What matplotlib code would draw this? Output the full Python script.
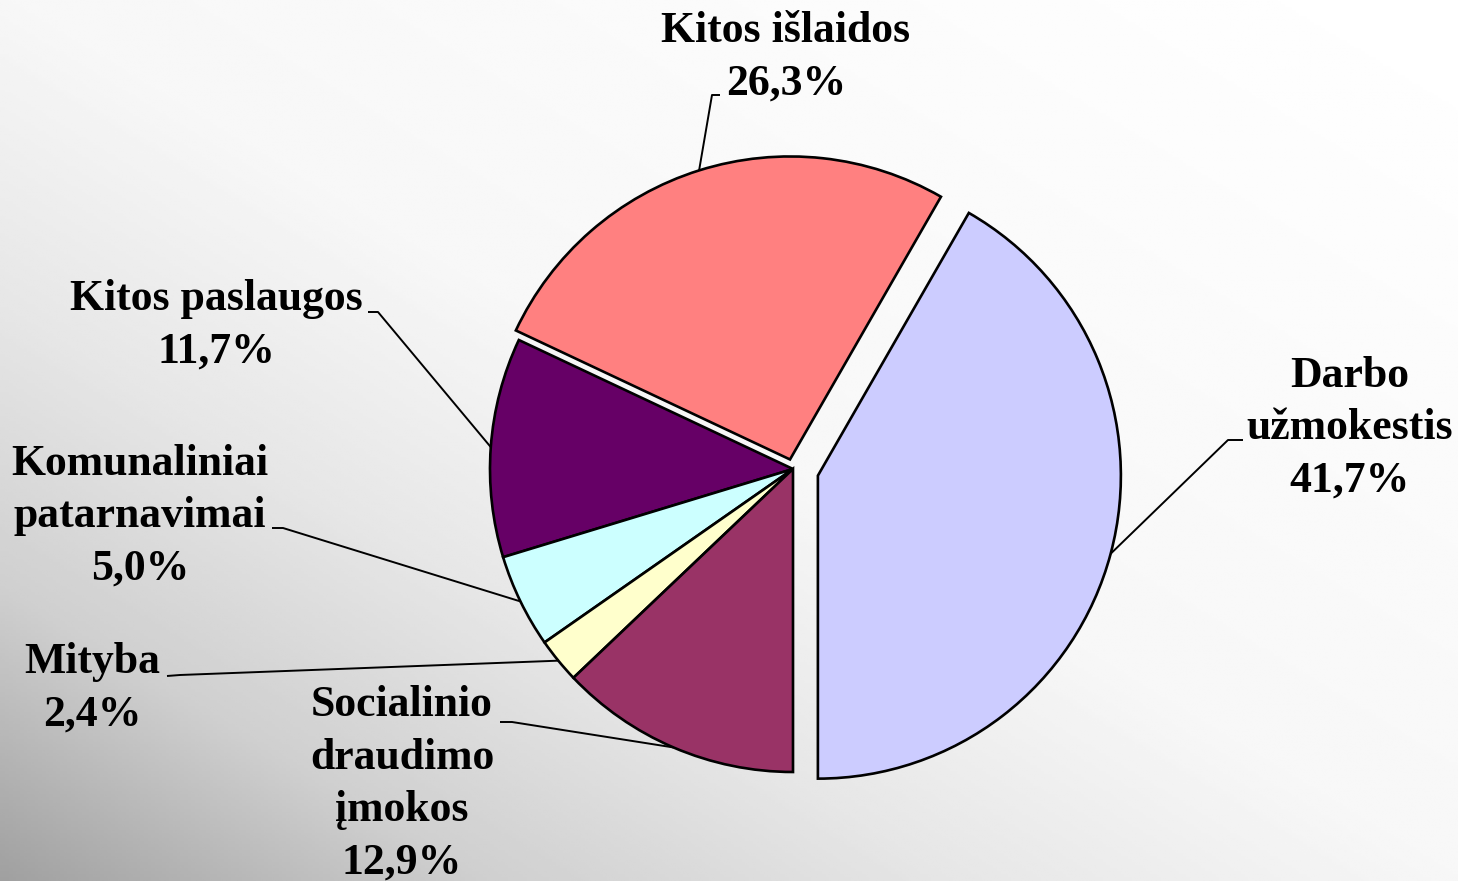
import numpy as np
import matplotlib
matplotlib.use('Agg')
import matplotlib.pyplot as plt

W, H = 1458, 881

# slices in counter-clockwise order, starting from the bottom
labels = ['Darbo\nužmokestis', 'Kitos išlaidos', 'Kitos paslaugos',
          'Komunaliniai\npatarnavimai', 'Mityba', 'Socialinio\ndraudimo\nįmokos']
shares = [41.7, 26.3, 11.7, 5.0, 2.4, 12.9]
colors = ['#CCCCFF', '#FF8080', '#660066', '#CCFFFF', '#FFFFCC', '#993366']
explode = [0.085, 0.033, 0, 0, 0, 0]

# label block centres and leader elbows, in picture pixels (y down)
label_pos = [(1350, 428), (786, 57), (216, 325), (140, 516), (92, 688), (402, 784)]
elbows = [(1228, 440), (712, 95), (378, 312), (283, 528), (180, 675), (512, 722)]
stub_ends = [(1243, 440), (720, 95), (368, 312), (272, 528), (167, 676), (500, 722)]

def fy(y):
	return H - y

fig = plt.figure(figsize=(W / 100, H / 100), dpi=100)

# background gradient: light top-right, grey bottom-left
bg = fig.add_axes([0, 0, 1, 1])
xx, yy = np.meshgrid(np.linspace(0, 1, 400), np.linspace(0, 1, 300))
s = xx + (1 - yy)
grey = np.interp(s, [0, 0.33, 0.65, 1.0, 2.0], [160, 207, 230, 247, 255]) / 255.0
bg.imshow(grey, cmap='gray', vmin=0, vmax=1, aspect='auto', extent=[0, 1, 0, 1], origin='upper')
bg.axis('off')

ax = fig.add_axes([0, 0, 1, 1])
ax.patch.set_alpha(0)
radius = 303
wedges, _ = ax.pie(shares, colors=colors, startangle=-90, radius=radius,
                   center=(793, fy(469)), explode=[e * radius for e in explode],
                   wedgeprops=dict(edgecolor='black', linewidth=1.9))
ax.set_xlim(0, W)
ax.set_ylim(0, H)
ax.set_aspect('equal')
ax.axis('off')

for i, w in enumerate(wedges):
	mid = np.deg2rad((w.theta1 + w.theta2) / 2)
	cx, cy = w.center
	ax_pt = (cx + w.r * np.cos(mid), cy + w.r * np.sin(mid))
	ex, ey = elbows[i]
	sx, sy = stub_ends[i]
	ax.plot([ax_pt[0], ex, sx], [ax_pt[1], fy(ey), fy(sy)], color='black', lw=1.4,
	        solid_capstyle='butt', zorder=3)
	txt = labels[i] + '\n' + ('%.1f%%' % shares[i]).replace('.', ',')
	lx, ly = label_pos[i]
	ax.text(lx, fy(ly), txt, ha='center', va='center', multialignment='center',
	        fontsize=31.5, fontweight='bold', family='Liberation Serif', linespacing=1.4,
	        zorder=4)

fig.savefig('out.png', dpi=100)
